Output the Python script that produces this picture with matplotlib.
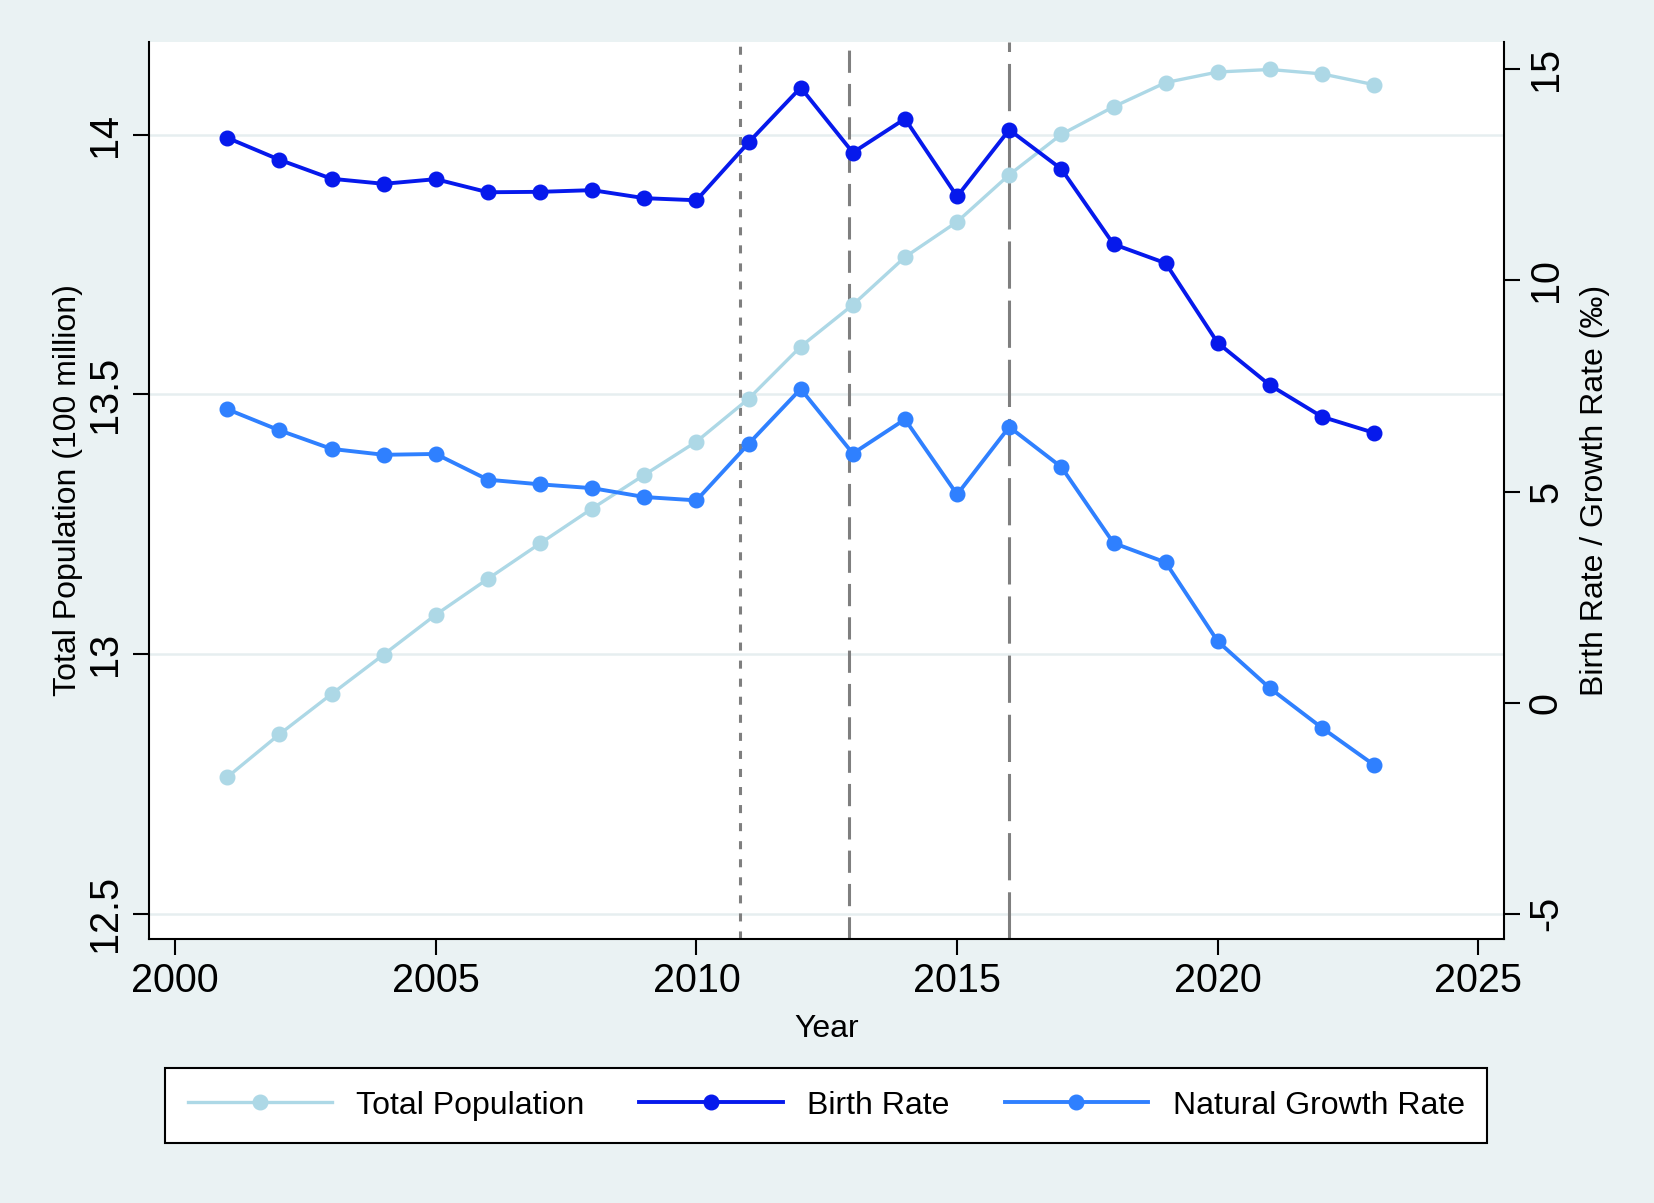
import matplotlib
matplotlib.use("Agg")
import matplotlib.pyplot as plt
from matplotlib.lines import Line2D

years = list(range(2001, 2024))
total_population = [12.7627, 12.8453, 12.9227, 12.9988, 13.0756, 13.1448, 13.2129,
                    13.2802, 13.3450, 13.4091, 13.4916, 13.5922, 13.6726, 13.7646,
                    13.8326, 13.9232, 14.0011, 14.0541, 14.1008, 14.1212, 14.1260,
                    14.1175, 14.0967]
birth_rate = [13.38, 12.86, 12.41, 12.29, 12.40, 12.09, 12.10, 12.14, 11.95, 11.90,
              13.27, 14.57, 13.03, 13.83, 11.99, 13.57, 12.64, 10.86, 10.41, 8.52,
              7.52, 6.77, 6.39]
natural_growth = [6.95, 6.45, 6.01, 5.87, 5.89, 5.28, 5.17, 5.08, 4.87, 4.79,
                  6.13, 7.43, 5.90, 6.71, 4.93, 6.53, 5.58, 3.78, 3.32, 1.45,
                  0.34, -0.60, -1.48]
policy_lines = [2010.83, 2012.92, 2016.0]
x_ticks = [2000, 2005, 2010, 2015, 2020, 2025]
left_ticks = [12.5, 13, 13.5, 14]
left_labels = ["12.5", "13", "13.5", "14"]
right_ticks = [-5, 0, 5, 10, 15]
right_labels = ["-5", "0", "5", "10", "15"]

plt.rcParams['font.family'] = ['Liberation Sans', 'DejaVu Sans']
plt.rcParams['lines.scale_dashes'] = False

BG = '#eaf2f3'
C_POP = '#add8e6'
C_BIRTH = '#0619ec'
C_GROW = '#2f80ff'
GRAY = '#7f7f7f'

fig = plt.figure(figsize=(16.54, 12.03), dpi=100, facecolor=BG)
ax = fig.add_axes([0.0898, 0.2195, 0.8195, 0.7456])
ax.set_facecolor('white')
ax2 = ax.twinx()

lw = 2.8
ms = 10.5

ax.plot(years, total_population, color=C_POP, lw=2.4, marker='o', ms=ms, zorder=3)
ax2.plot(years, birth_rate, color=C_BIRTH, lw=lw, marker='o', ms=ms, zorder=3)
ax2.plot(years, natural_growth, color=C_GROW, lw=lw, marker='o', ms=ms, zorder=3)

styles = [(0, (5.8, 7.2)), (0, (16, 8)), (0, (34, 8.6))]
for xv, ls in zip(policy_lines, styles):
    ax.axvline(xv, color=GRAY, lw=2.2, linestyle=ls, zorder=1.5)

ax.set_xlim(1999.49, 2025.49)
ax.set_ylim(12.451, 14.179)
ax2.set_ylim(-5.6, 15.65)

ax.set_xticks(x_ticks)
ax.set_xticklabels([str(t) for t in x_ticks], fontsize=28.5)
ax.set_yticks(left_ticks)
ax.set_yticklabels(left_labels, fontsize=28.5, rotation=90, va='center')
ax2.set_yticks(right_ticks)
ax2.set_yticklabels(right_labels, fontsize=28.5, rotation=90, va='center')

ax.grid(axis='y', color='#e6eef0', lw=1.8, zorder=0)
ax.set_axisbelow(True)

for a in (ax, ax2):
    a.spines['top'].set_visible(False)
ax.spines['right'].set_visible(False)
ax2.spines['left'].set_visible(False)
ax2.spines['bottom'].set_visible(False)
for s in ('left', 'bottom'):
    ax.spines[s].set_linewidth(1.5)
ax2.spines['right'].set_linewidth(1.5)

ax.tick_params(axis='both', length=11.5, width=1.5, direction='out', pad=5)
ax.tick_params(axis='y', pad=6)
ax2.tick_params(axis='y', length=11.5, width=1.5, direction='out', pad=5)

ax.set_xlabel('Year', fontsize=23)
ax.set_ylabel('Total Population (100 million)', fontsize=23)
ax2.set_ylabel('Birth Rate / Growth Rate (‰)', fontsize=23)
ax.xaxis.set_label_coords(0.5, -0.084)
ax.yaxis.set_label_coords(-0.048, 0.5)
ax2.yaxis.set_label_coords(1.056, 0.5)

handles = [Line2D([], [], color=C_POP, lw=2.4, marker='o', ms=ms),
           Line2D([], [], color=C_BIRTH, lw=lw, marker='o', ms=ms),
           Line2D([], [], color=C_GROW, lw=lw, marker='o', ms=ms)]
leg = fig.legend(handles, ['Total Population', 'Birth Rate', 'Natural Growth Rate'],
                 loc='center', bbox_to_anchor=(0.4995, 0.081), ncol=3,
                 fontsize=23, handlelength=4.5, handletextpad=0.76,
                 columnspacing=1.72, borderpad=0.71, numpoints=1,
                 frameon=True, fancybox=False, edgecolor='black', facecolor='white',
                 framealpha=1)
leg.get_frame().set_linewidth(1.5)

fig.savefig('out.png', dpi=100, facecolor=BG)
